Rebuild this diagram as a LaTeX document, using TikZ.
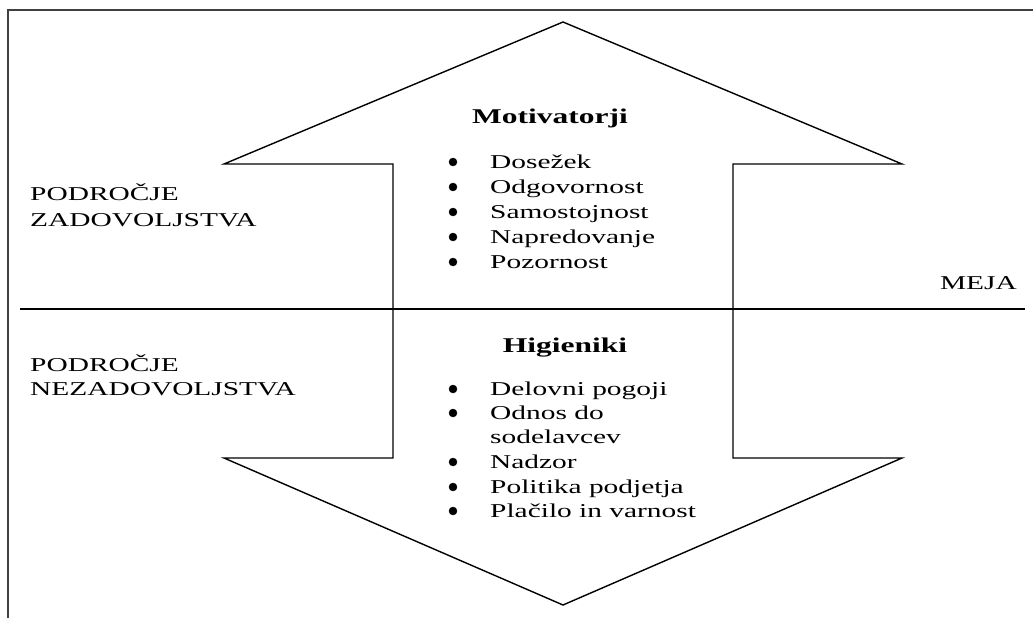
\documentclass[tikz,border=0pt]{standalone}
\usepackage{fontspec}
\setmainfont{Liberation Serif}[FakeStretch=1.5]
\newcommand{\itemfont}{\fontsize{19.6}{25}\selectfont}
\newcommand{\headfont}{\fontsize{21}{25}\selectfont\bfseries}

\begin{document}
\begin{tikzpicture}[x=1pt,y=-1pt,every node/.style={inner sep=0pt},
  txt/.style={anchor=base west,font=\itemfont},
  head/.style={anchor=base,font=\headfont},
  bul/.style={circle,fill=black,draw=black,inner sep=0pt,minimum size=8pt}]
  \useasboundingbox (0,0) rectangle (1033,618);
  % frame
  \draw[line width=1.6pt,black!75] (8,618) -- (8,10) -- (1033,10);
  % arrows
  \draw[line width=1.4pt] (393,309) -- (393,164) -- (224,164) -- (563,22) -- (902,164) -- (733,164) -- (733,309);
  \draw[line width=1.4pt] (393,309) -- (393,458) -- (224,458) -- (563,605) -- (902,458) -- (733,458) -- (733,309);
  \draw[line width=2.4pt] (20,309) -- (1025,309);
  \node[anchor=base east,font=\itemfont] (meja) at (1017,289) {MEJA};
  % zones
  \node[txt] (zad1) at (30,200) {PODROČJE};
  \node[txt] (zad2) at (30,226) {ZADOVOLJSTVA};
  \node[txt] (nez1) at (30,371) {PODROČJE};
  \node[txt] (nez2) at (30,395) {NEZADOVOLJSTVA};
  % motivators
  \node[head] (mot) at (550,123) {Motivatorji};
  \node[bul] (m1) at (453,162) {}; \node[txt] (mt1) at (490,168) {Dosežek};
  \node[bul] (m2) at (453,187) {}; \node[txt] (mt2) at (490,193) {Odgovornost};
  \node[bul] (m3) at (453,212) {}; \node[txt] (mt3) at (490,218) {Samostojnost};
  \node[bul] (m4) at (453,237) {}; \node[txt] (mt4) at (490,243) {Napredovanje};
  \node[bul] (m5) at (453,262) {}; \node[txt] (mt5) at (490,268) {Pozornost};
  % hygiene factors
  \node[head] (hig) at (565,352) {Higieniki};
  \node[bul] (h1) at (453,389) {}; \node[txt] (ht1) at (490,395) {Delovni pogoji};
  \node[bul] (h2) at (453,413) {}; \node[txt] (ht2) at (490,419) {Odnos do};
  \node[txt] (ht2b) at (490,443) {sodelavcev};
  \node[bul] (h3) at (453,462) {}; \node[txt] (ht3) at (490,468) {Nadzor};
  \node[bul] (h4) at (453,487) {}; \node[txt] (ht4) at (490,493) {Politika podjetja};
  \node[bul] (h5) at (453,511) {}; \node[txt] (ht5) at (490,517) {Plačilo in varnost};
\end{tikzpicture}
\end{document}
